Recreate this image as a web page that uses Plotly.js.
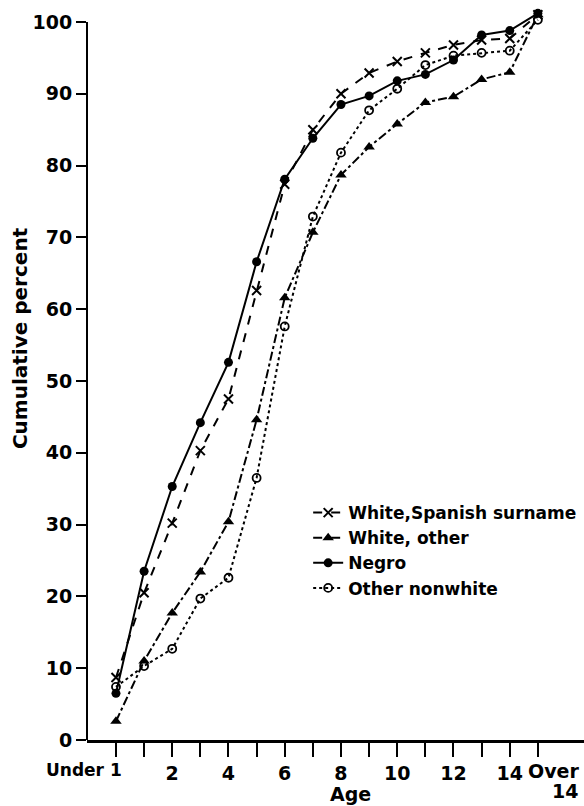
<!DOCTYPE html>
<html>
<head>
<meta charset="utf-8">
<script src="https://cdn.plot.ly/plotly-3.0.1.min.js"></script>
<style>html,body{margin:0;padding:0;background:#fff;}#chart{width:584px;height:806px;}</style>
</head>
<body>
<div id="chart"></div>
<script>
// Categories: Under 1, 1 ... 14, Over 14 (positions 0..15)
const ageCategories = ["Under 1","1","2","3","4","5","6","7","8","9","10","11","12","13","14","Over 14"];
const agePositions = [0,1,2,3,4,5,6,7,8,9,10,11,12,13,14,15];
const tickLabels = ["","","2","","4","","6","","8","","10","","12","","14",""];
const yTicks = [0,10,20,30,40,50,60,70,80,90,100];

const spanishSurname = [8.7, 20.5, 30.2, 40.3, 47.5, 62.6, 77.4, 85.0, 90.0, 92.9, 94.5, 95.7, 96.8, 97.5, 97.7, 101.0];
const whiteOther     = [2.6, 11.0, 17.7, 23.4, 30.4, 44.6, 61.6, 70.7, 78.7, 82.6, 85.8, 88.8, 89.6, 92.0, 93.0, 101.0];
const negro          = [6.5, 23.5, 35.3, 44.2, 52.6, 66.6, 78.1, 83.8, 88.5, 89.7, 91.8, 92.7, 94.7, 98.2, 98.8, 101.2];
const otherNonwhite  = [7.4, 10.3, 12.7, 19.7, 22.6, 36.5, 57.6, 72.9, 81.8, 87.7, 90.7, 94.0, 95.3, 95.7, 96.0, 100.3];

const FONT = {family: "DejaVu Sans", size: 17, color: "#000", weight: "bold"};
const TICKFONT = {family: "DejaVu Sans", size: 19, color: "#000", weight: "bold"};
const YTITLEFONT = {family: "DejaVu Sans", size: 20, color: "#000", weight: "bold"};

const traces = [
  {name: "White,Spanish surname", y: spanishSurname, dash: "dash",
   marker: {symbol: "x-thin-open", size: 9, color: "#000", line: {width: 2, color: "#000"}}},
  {name: "White, other", y: whiteOther, dash: "dashdot",
   marker: {symbol: "triangle-up", size: 10, color: "#000"}},
  {name: "Negro", y: negro, dash: "solid",
   marker: {symbol: "circle", size: 9, color: "#000"}},
  {name: "Other nonwhite", y: otherNonwhite, dash: "dot",
   marker: {symbol: "circle-open", size: 8, color: "#000", line: {width: 1.8, color: "#000"}}}
].map(t => ({
  type: "scatter", mode: "lines+markers", name: t.name,
  x: agePositions, y: t.y, text: ageCategories,
  line: {color: "#000", width: 2, dash: t.dash},
  marker: t.marker, cliponaxis: false
}));

const layout = {
  width: 584, height: 806, autosize: false,
  margin: {l: 87, r: 0, t: 0, b: 66},
  paper_bgcolor: "#fff", plot_bgcolor: "#fff",
  font: FONT,
  showlegend: true,
  legend: {x: 0.445, y: 0.331, xanchor: "left", yanchor: "top",
           font: FONT, bgcolor: "rgba(0,0,0,0)", tracegroupgap: 0, itemwidth: 30},
  xaxis: {
    range: [-1.03, 16.64], tickmode: "array", tickvals: agePositions, ticktext: tickLabels,
    showgrid: false, zeroline: false, showline: true, linecolor: "#000", linewidth: 3,
    ticks: "outside", ticklen: 14, tickwidth: 2, tickcolor: "#000",
    tickfont: TICKFONT, fixedrange: true
  },
  yaxis: {
    range: [0, 103.06], tickmode: "array", tickvals: yTicks,
    showgrid: false, zeroline: false, showline: false,
    ticks: "outside", ticklen: 10, tickwidth: 2, tickcolor: "#000",
    tickfont: TICKFONT, fixedrange: true
  },
  shapes: [
    {type: "line", xref: "paper", yref: "y", x0: 0, x1: 0, y0: 0, y1: 100,
     line: {color: "#000", width: 2}}
  ],
  annotations: [
    {text: "Under 1", xref: "x", yref: "paper", x: 0, y: 0, xanchor: "right", yanchor: "top",
     xshift: 8, yshift: -18, showarrow: false, font: FONT},
    {text: "Over", xref: "x", yref: "paper", x: 15, y: 0, xanchor: "left", yanchor: "top",
     xshift: -12, yshift: -18, showarrow: false, font: TICKFONT},
    {text: "14", xref: "x", yref: "paper", x: 15, y: 0, xanchor: "right", yanchor: "top",
     xshift: 42, yshift: -38, showarrow: false, font: TICKFONT},
    {text: "Age", xref: "paper", yref: "paper", x: 0.531, y: 0, xanchor: "center", yanchor: "top",
     yshift: -41, showarrow: false, font: TICKFONT},
    {text: "Cumulative percent", xref: "paper", yref: "paper", x: -0.135, y: 0.543,
     xanchor: "center", yanchor: "middle", textangle: -90, showarrow: false, font: YTITLEFONT}
  ]
};

Plotly.newPlot("chart", traces, layout, {displayModeBar: false, staticPlot: true});
</script>
</body>
</html>
